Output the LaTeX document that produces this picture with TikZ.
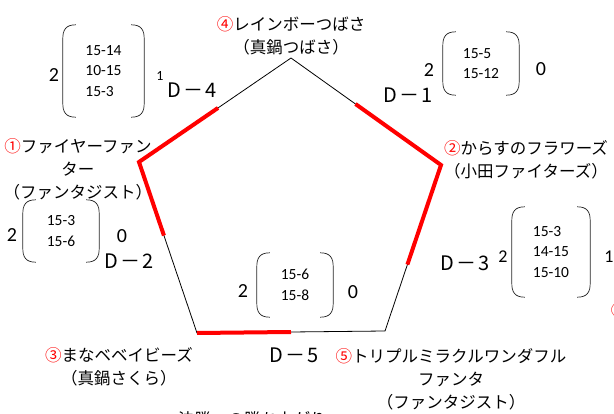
\documentclass[tikz,border=0pt]{standalone}
\usepackage{fontspec}
\setmainfont{Noto Sans CJK JP}
\newfontfamily\numfont{Carlito}
\usetikzlibrary{calc}
\tikzset{
 x=1pt,y=-1pt,
 edge/.style={line width=0.8pt, black},
 win/.style={line width=4pt, red, line join=miter},
 team/.style={align=center, inner sep=0pt, font=\fontsize{16.5}{23}\selectfont},
 score/.style={inner sep=0pt, align=left, font=\numfont\fontsize{15.5}{20.5}\selectfont},
 big/.style={inner sep=0pt, font=\numfont\fontsize{20}{20}\selectfont},
 mid/.style={inner sep=0pt, font=\numfont\fontsize{18}{18}\selectfont},
 small/.style={inner sep=0pt, font=\numfont\fontsize{14}{14}\selectfont},
 dlabel/.style={inner sep=0pt, font=\fontsize{20}{20}\selectfont},
 brk/.style={line width=0.7pt, black!85},
}
\newcommand\cn[1]{\textcolor{red}{#1}}
\newcommand\dl[1]{D\hspace{2pt}－\hspace{2pt}#1}
\newcommand\brk[1]{%
 \draw[brk] ($(#1.north west)+(13,0)$) .. controls ($(#1.north west)+(3,0)$) and ($(#1.north west)+(0,5)$) .. ($(#1.north west)+(0,14)$) -- ($(#1.south west)+(0,-14)$) .. controls ($(#1.south west)+(0,-5)$) and ($(#1.south west)+(3,0)$) .. ($(#1.south west)+(13,0)$);
 \draw[brk] ($(#1.north east)+(-13,0)$) .. controls ($(#1.north east)+(-3,0)$) and ($(#1.north east)+(0,5)$) .. ($(#1.north east)+(0,14)$) -- ($(#1.south east)+(0,-14)$) .. controls ($(#1.south east)+(0,-5)$) and ($(#1.south east)+(-3,0)$) .. ($(#1.south east)+(-13,0)$);
}
\begin{document}
\begin{tikzpicture}
\useasboundingbox (0,0) rectangle (614,414);
% pentagon
\coordinate (T) at (291,58);
\coordinate (R) at (441,165);
\coordinate (BR) at (385,331);
\coordinate (BL) at (197,333);
\coordinate (L) at (139,162);
\draw[edge] (T) -- (R) -- (BR) -- (BL) -- (L) -- cycle;
\draw[win] ($(L)!0.52!(T)$) -- (L) -- ($(L)!0.43!(BL)$);
\draw[win] ($(T)!0.43!(R)$) -- (R) -- ($(R)!0.6!(BR)$);
\draw[win] (BL) -- ($(BL)!0.5!(BR)$);
% teams
\node[team] (t4) at (291,36) {\cn{④}レインボーつばさ\\（真鍋つばさ）};
\node[team] (t1) at (78,169) {\cn{①}ファイヤーファン\\ター\\（ファンタジスト）};
\node[team] (t2) at (526,160) {\cn{②}からすのフラワーズ\\（小田ファイターズ）};
\node[team] (t3) at (119,366.5) {\cn{③}まなベベイビーズ\\（真鍋さくら）};
\node[team] (t5) at (451,379) {\cn{⑤}トリプルミラクルワンダフル\\ファンタ\\（ファンタジスト）};
\node[team, text=red] (t6) at (619,310) {⑥};
\node[team, anchor=base west] (final) at (178,425) {決勝への勝ち上がり};
% D labels
\node[dlabel] (d4) at (192,90) {\dl{4}};
\node[dlabel] (d1) at (408,95) {\dl{1}};
\node[dlabel] (d2) at (129,261) {\dl{2}};
\node[dlabel] (d3) at (465,263) {\dl{3}};
\node[dlabel] (d5) at (294,355) {\dl{5}};
% score matrices
\node[score, minimum width=81pt, minimum height=92pt] (m4) at (103.5,71) {15-14\\10-15\\15-3};
\brk{m4}
\node[big] (m4a) at (54,75) {2};
\node[small] (m4b) at (160,76) {1};
\node[score, minimum width=76pt, minimum height=63pt] (m1) at (481,63.5) {15-5\\15-12};
\brk{m1}
\node[big] (m1a) at (429,70) {2};
\node[big] (m1b) at (541,69) {0};
\node[score, minimum width=76pt, minimum height=62pt] (m2) at (61,231) {15-3\\15-6};
\brk{m2}
\node[big] (m2a) at (12,235) {2};
\node[big] (m2b) at (122,236) {0};
\node[score, minimum width=78pt, minimum height=90pt] (m3) at (551,252) {15-3\\14-15\\15-10};
\brk{m3}
\node[mid] (m3a) at (503,257) {2};
\node[mid] (m3b) at (609,257) {1};
\node[score, minimum width=76pt, minimum height=64pt] (m5) at (295,285) {15-6\\15-8};
\brk{m5}
\node[big] (m5a) at (243,291) {2};
\node[big] (m5b) at (353,292) {0};
\end{tikzpicture}
\end{document}
